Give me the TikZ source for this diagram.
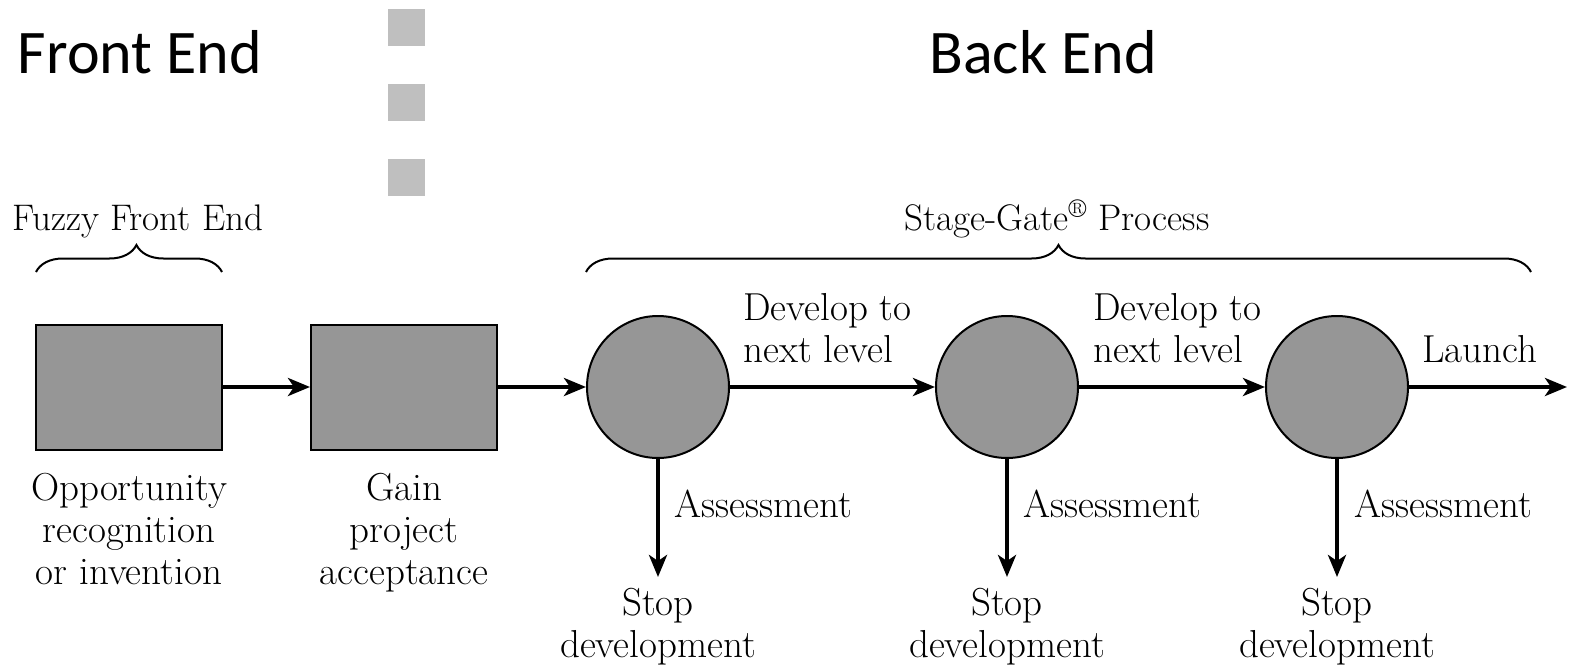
\documentclass[tikz,border=0pt]{standalone}
\usepackage{fontspec}
\newfontfamily\titlefont{Carlito}
\usetikzlibrary{arrows.meta,decorations.pathreplacing}
\definecolor{boxgray}{HTML}{969696}
\definecolor{markgray}{HTML}{BFBFBF}

\begin{document}
\begin{tikzpicture}[x=0.5pt,y=-0.5pt,
  stagebox/.style={draw=black, line width=1pt, fill=boxgray,
    minimum width=93pt, minimum height=62.5pt, inner sep=0pt},
  gate/.style={circle, draw=black, line width=1pt, fill=boxgray,
    minimum size=71pt, inner sep=0pt},
  flow/.style={line width=2pt, -{Stealth[length=11pt,width=9pt,inset=3pt]}},
  lbl/.style={font=\fontsize{19.5pt}{21pt}\selectfont, inner sep=0pt, align=center},
  grouplbl/.style={font=\fontsize{18.5pt}{21pt}\selectfont, inner sep=0pt},
  title/.style={font=\titlefont\fontsize{31pt}{36pt}\selectfont, inner sep=0pt},
  bracket/.style={decorate, line width=1pt},
  marker/.style={fill=markgray, draw=none}
]
\useasboundingbox (0,0) rectangle (1569,669);

% headings
\node[title, anchor=base] (fe) at (140,73) {Front End};
\node[title, anchor=base] (be) at (1043,73) {Back End};

% dotted separator between front and back end
\fill[marker] (388,9) rectangle (425,46);
\fill[marker] (388,84) rectangle (425,121);
\fill[marker] (388,159) rectangle (425,196);

% group labels and braces
\node[grouplbl, anchor=base] (ffe) at (138,230) {Fuzzy Front End};
\node[grouplbl, anchor=base] (sgp) at (1057,230) {Stage-Gate\textsuperscript{\textregistered} Process};
\draw[bracket, decoration={brace, amplitude=13.5pt, aspect=0.54}] (36,272) -- (222,272);
\draw[bracket, decoration={brace, amplitude=13.5pt, aspect=0.5}] (586,272) -- (1531,272);

% process boxes and gates
\node[stagebox] (b1) at (129,387) {};
\node[stagebox] (b2) at (404,387) {};
\node[gate] (g1) at (658,387) {};
\node[gate] (g2) at (1007,387) {};
\node[gate] (g3) at (1337,387) {};

\coordinate (out) at (1567,387);
\coordinate (s1) at (658,577);
\coordinate (s2) at (1007,577);
\coordinate (s3) at (1337,577);

% main flow
\draw[flow] (b1.east) -- (b2.west);
\draw[flow] (b2.east) -- (g1.west);
\draw[flow] (g1.east) -- (g2.west);
\draw[flow] (g2.east) -- (g3.west);
\draw[flow] (g3.east) -- (out);

% exits
\draw[flow] (g1.south) -- (s1);
\draw[flow] (g2.south) -- (s2);
\draw[flow] (g3.south) -- (s3);

% labels under the boxes
\node[lbl, anchor=north] (t1) at (129,470.6) {\strut Opportunity\\recognition\\or invention};
\node[lbl, anchor=north] (t2) at (404,470.6) {\strut Gain\\project\\acceptance};

% flow labels
\node[lbl, anchor=north west, align=left] (d1) at (743,290.6) {\strut Develop to\\next level};
\node[lbl, anchor=north west, align=left] (d2) at (1093,290.6) {\strut Develop to\\next level};
\node[lbl, anchor=base west] (la) at (1422,362) {Launch};

\node[lbl, anchor=base west] (a1) at (674,517) {Assessment};
\node[lbl, anchor=base west] (a2) at (1023,517) {Assessment};
\node[lbl, anchor=base west] (a3) at (1354,517) {Assessment};

\node[lbl, anchor=north] (x1) at (658,585.6) {\strut Stop\\development};
\node[lbl, anchor=north] (x2) at (1007,585.6) {\strut Stop\\development};
\node[lbl, anchor=north] (x3) at (1337,585.6) {\strut Stop\\development};
\end{tikzpicture}
\end{document}
